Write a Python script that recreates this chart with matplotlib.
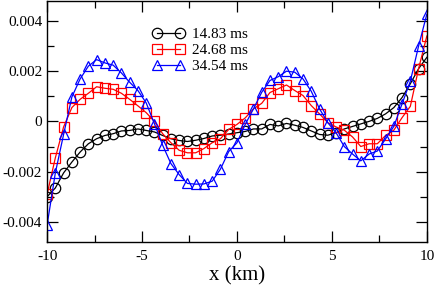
import matplotlib
matplotlib.use('Agg')
import matplotlib.pyplot as plt
import numpy as np
from matplotlib.ticker import MultipleLocator

plt.rcParams['font.family'] = 'Liberation Serif'
plt.rcParams['axes.unicode_minus'] = False

# x positions (km), 47 points across -10..10
x = np.linspace(-10, 10, 47)

# values in units of 1e-3
t1483 = [-3.0, -2.65, -2.05, -1.62, -1.22, -0.89, -0.69, -0.56, -0.49, -0.38,
         -0.36, -0.30, -0.36, -0.42, -0.56, -0.69, -0.76, -0.80, -0.75, -0.68,
         -0.58, -0.55, -0.50, -0.45, -0.40, -0.30, -0.30, -0.12, -0.18, -0.08,
         -0.15, -0.24, -0.38, -0.52, -0.55, -0.45, -0.30, -0.20, -0.10, 0.0,
         0.12, 0.30, 0.55, 0.95, 1.5, 2.1, 2.55]
t2468 = [-2.9, -1.45, -0.22, 0.55, 0.88, 1.12, 1.38, 1.32, 1.28, 1.12,
         0.88, 0.62, 0.35, 0.0, -0.49, -0.85, -1.15, -1.25, -1.25, -1.08,
         -0.85, -0.69, -0.32, -0.12, 0.14, 0.5, 0.72, 1.15, 1.30, 1.45,
         1.23, 1.03, 0.63, 0.30, -0.05, -0.22, -0.35, -0.62, -1.0, -0.89,
         -0.89, -0.56, -0.35, 0.15, 0.6, 2.1, 3.4]
t3454 = [-4.13, -2.05, -0.52, 0.97, 1.69, 2.2, 2.46, 2.33, 2.24, 1.93,
         1.56, 1.23, 0.74, -0.09, -0.95, -1.68, -2.12, -2.47, -2.5, -2.49,
         -2.38, -1.9, -1.2, -0.85, -0.12, 0.5, 1.16, 1.63, 1.78, 2.0,
         1.96, 1.69, 1.2, 0.5, -0.05, -0.45, -1.0, -1.3, -1.57, -1.3,
         -1.18, -0.7, -0.2, 0.7, 1.6, 3.0, 4.27]

series = [(t1483, 'black', 'o', 7.5, '14.83 ms'),
          (t2468, 'red', 's', 6.8, '24.68 ms'),
          (t3454, 'blue', '^', 7.5, '34.54 ms')]

fig = plt.figure(figsize=(4.36, 2.86), dpi=100)
ax = fig.add_axes([0.108, 0.154, 0.871, 0.843])

for vals, col, mk, ms, lab in series:
    ax.plot(x, np.array(vals) * 1e-3, color=col, lw=0.9, marker=mk,
            markersize=ms, markerfacecolor='none',
            markeredgecolor=col, markeredgewidth=0.9, label=lab)

ax.set_xlim(-10, 10)
ax.set_ylim(-0.0048, 0.0048)
ax.xaxis.set_major_locator(MultipleLocator(5))
ax.xaxis.set_minor_locator(MultipleLocator(2.5))
ax.yaxis.set_minor_locator(MultipleLocator(0.001))
ax.set_yticks([-0.004, -0.002, 0, 0.002, 0.004])
ax.set_yticklabels(['-0.004', '-0.002', '0', '0.002', '0.004'])
ax.tick_params(which='both', direction='in', top=True, right=True, labelsize=11)
ax.tick_params(which='major', length=8, width=0.9)
ax.tick_params(which='minor', length=5, width=0.9)
ax.tick_params(axis='x', pad=6)
for s in ax.spines.values():
    s.set_linewidth(1.0)

ax.set_xlabel('x (km)', fontsize=15, labelpad=2)

ax.legend(loc='upper left', bbox_to_anchor=(0.277, 0.89), frameon=False,
          numpoints=2, handlelength=2.1, handletextpad=0.5, labelspacing=0.16,
          borderpad=0, borderaxespad=0, fontsize=11)

fig.savefig('out.png', dpi=100)
